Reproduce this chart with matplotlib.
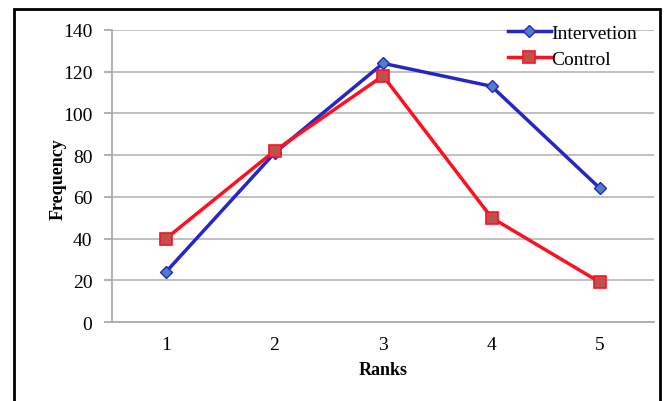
import matplotlib.pyplot as plt
from matplotlib.patches import Rectangle

ranks = [1, 2, 3, 4, 5]
intervention = [24, 81, 124, 113, 64]
control = [40, 82, 118, 50, 19]
y_ticks = [0, 20, 40, 60, 80, 100, 120, 140]

plt.rcParams['font.family'] = ['Liberation Serif', 'DejaVu Serif']

fig = plt.figure(figsize=(6.65, 4.02), dpi=100)
ax = fig.add_axes([0.168, 0.1965, 0.816, 0.7265])

# рамка вокруг всего рисунка, нижний край уходит за пределы
fig.patches.append(Rectangle((0.021, -0.05), 0.972, 1.025, transform=fig.transFigure,
                             fill=False, edgecolor='black', linewidth=2))

ax.plot(ranks, intervention, color='#2626C8', linewidth=2.5, marker='D', markersize=6,
        markerfacecolor='#4F7FC0', markeredgecolor='#2626C8', markeredgewidth=1,
        label='Intervetion', zorder=3)
ax.plot(ranks, control, color='#FF1020', linewidth=2.5, marker='s', markersize=8,
        markerfacecolor='#C0504D', markeredgecolor='#FF1020', markeredgewidth=1.2,
        label='Control', zorder=3)

ax.set_xlim(0.5, 5.5)
ax.set_ylim(0, 140)
ax.set_yticks(y_ticks)
ax.set_xticks(ranks)
ax.grid(axis='y', color='#BBBBBB', linewidth=1.3)
ax.set_axisbelow(True)

for side in ['top', 'right']:
    ax.spines[side].set_visible(False)
for side in ['left', 'bottom']:
    ax.spines[side].set_color('#AAAAAA')
    ax.spines[side].set_linewidth(1.3)

ax.tick_params(axis='y', length=6, color='#AAAAAA', width=1.3, labelsize=14, pad=8)
ax.tick_params(axis='x', length=0, labelsize=14, pad=10)

ax.set_xlabel('Ranks', fontsize=13, fontweight='bold')
ax.set_ylabel('Frequency', fontsize=13, fontweight='bold')
ax.xaxis.set_label_coords(0.5, -0.133)
ax.yaxis.set_label_coords(-0.083, 0.493)

ax.legend(loc='upper right', frameon=False, fontsize=14, handlelength=2.2,
          handletextpad=0.05, borderaxespad=0.0, labelspacing=0.45,
          bbox_to_anchor=(0.983, 1.046))

fig.savefig('out.png', dpi=100)
